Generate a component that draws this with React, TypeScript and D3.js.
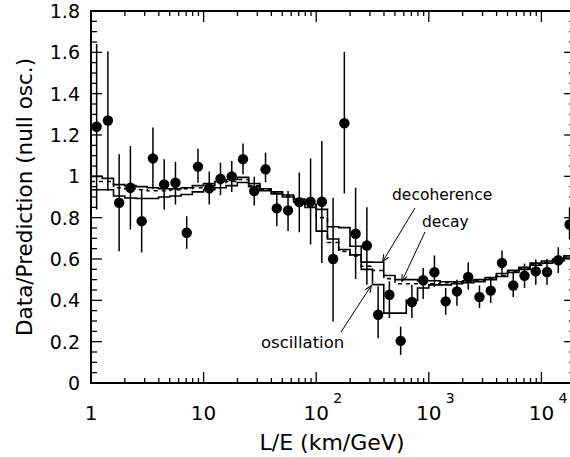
import React from "react";
import * as d3 from "d3";

// log10(L/E) bin centres (bins of 0.1 decade)
const logCenters = [
  0.05, 0.15, 0.25, 0.35, 0.45, 0.55, 0.65, 0.75, 0.85, 0.95,
  1.05, 1.15, 1.25, 1.35, 1.45, 1.55, 1.65, 1.75, 1.85, 1.95,
  2.05, 2.15, 2.25, 2.35, 2.45, 2.55, 2.65, 2.75, 2.85, 2.95,
  3.05, 3.15, 3.25, 3.35, 3.45, 3.55, 3.65, 3.75, 3.85, 3.95,
  4.05, 4.15, 4.25,
];

const ratio = [
  1.24, 1.27, 0.872, 0.945, 0.783, 1.087, 0.961, 0.969, 0.727, 1.047,
  0.942, 0.988, 1.0, 1.083, 0.929, 1.034, 0.845, 0.835, 0.875, 0.877,
  0.877, 0.6, 1.257, 0.722, 0.665, 0.33, 0.427, 0.204, 0.392, 0.497,
  0.536, 0.395, 0.443, 0.513, 0.416, 0.447, 0.581, 0.472, 0.519, 0.54,
  0.537, 0.594, 0.767,
];
const errHigh = [
  1.64, 1.605, 1.107, 1.147, 0.937, 1.236, 1.083, 1.071, 0.807, 1.134,
  1.023, 1.066, 1.074, 1.159, 0.998, 1.115, 0.92, 0.929, 1.018, 1.086,
  1.171, 0.896, 1.603, 0.945, 0.851, 0.468, 0.492, 0.273, 0.476, 0.557,
  0.617, 0.46, 0.5, 0.584, 0.472, 0.5, 0.641, 0.54, 0.578, 0.597,
  0.6, 0.657, 0.848,
];
const errLow = [
  0.84, 0.93, 0.637, 0.743, 0.631, 0.937, 0.84, 0.864, 0.649, 0.969,
  0.864, 0.908, 0.924, 1.01, 0.859, 0.971, 0.759, 0.735, 0.73, 0.67,
  0.581, 0.298, 0.917, 0.503, 0.476, 0.217, 0.314, 0.136, 0.314, 0.406,
  0.465, 0.33, 0.374, 0.451, 0.363, 0.387, 0.516, 0.416, 0.46, 0.476,
  0.476, 0.532, 0.694,
];

const oscillation = [
  0.935, 0.935, 0.905, 0.895, 0.893, 0.893, 0.9, 0.905, 0.912, 0.925,
  0.935, 0.945, 0.955, 0.97, 0.95, 0.93, 0.915, 0.9, 0.875, 0.85,
  0.735, 0.697, 0.646, 0.62, 0.55, 0.476, 0.338, 0.338, 0.4, 0.46,
  0.475, 0.475, 0.48, 0.485, 0.49, 0.5, 0.515, 0.535, 0.55, 0.57,
  0.58, 0.59, 0.605,
];
const decay = [
  0.975, 0.975, 0.945, 0.94, 0.935, 0.93, 0.93, 0.935, 0.94, 0.945,
  0.955, 0.965, 0.975, 0.985, 0.955, 0.935, 0.92, 0.905, 0.88, 0.855,
  0.8, 0.68, 0.637, 0.615, 0.565, 0.544, 0.505, 0.48, 0.48, 0.48,
  0.48, 0.485, 0.485, 0.49, 0.495, 0.505, 0.52, 0.54, 0.555, 0.575,
  0.585, 0.595, 0.61,
];
const decoherence = [
  1.0, 0.99, 0.96, 0.955, 0.95, 0.945, 0.94, 0.94, 0.945, 0.955,
  0.965, 0.975, 0.985, 0.995, 0.965, 0.94, 0.925, 0.91, 0.89, 0.865,
  0.84, 0.756, 0.752, 0.662, 0.585, 0.584, 0.52, 0.5, 0.5, 0.495,
  0.495, 0.49, 0.49, 0.495, 0.5, 0.51, 0.53, 0.545, 0.56, 0.58,
  0.59, 0.6, 0.615,
];

const yTicks = [0, 0.2, 0.4, 0.6, 0.8, 1, 1.2, 1.4, 1.6, 1.8];
const yTickLabels = ["0", "0.2", "0.4", "0.6", "0.8", "1", "1.2", "1.4", "1.6", "1.8"];
const xDecades = [1, 10, 100, 1000, 10000];
const xBase = ["1", "10", "10", "10", "10"];
const xSup = ["", "", "2", "3", "4"];

const FONT = "'DejaVu Sans', 'Open Sans', sans-serif";

export default function App() {
  const W = 570;
  const H = 457;
  const left = 91;
  const decade = 112.6;
  const right = left + 4.3 * decade;
  const top = 11;
  const bottom = 383;

  const x = d3.scaleLog().domain([1, Math.pow(10, 4.3)]).range([left, right]);
  const y = d3.scaleLinear().domain([0, 1.8]).range([bottom, top]);

  const centersLE = logCenters.map((l) => Math.pow(10, l));
  const edges = logCenters.map((l) => Math.pow(10, l - 0.05));
  edges.push(Math.pow(10, logCenters[logCenters.length - 1] + 0.05));

  const stepLine = (vals: number[]) => {
    const pts: [number, number][] = vals.map((v, i) => [edges[i], v]);
    pts.push([edges[vals.length], vals[vals.length - 1]]);
    return d3
      .line<[number, number]>()
      .x((d) => x(d[0]))
      .y((d) => y(d[1]))
      .curve(d3.curveStepAfter)(pts) as string;
  };

  const yMinor = d3.range(0, 1.8001, 0.05);
  const xMinor: number[] = [];
  for (let e = 0; e < 5; e++) {
    for (let m = 2; m <= 9; m++) {
      const v = m * Math.pow(10, e);
      if (v < Math.pow(10, 4.3)) xMinor.push(v);
    }
  }

  const sw = 1.6;

  return (
    <svg
      width={W}
      height={H}
      style={{ position: "absolute", left: 0, top: 0, background: "#fff" }}
      fontFamily={FONT}
    >
      <defs>
        <clipPath id="plot">
          <rect x={left} y={top} width={right - left} height={bottom - top} />
        </clipPath>
        <marker
          id="arrow"
          viewBox="0 0 10 10"
          refX="9"
          refY="5"
          markerWidth="7"
          markerHeight="7"
          orient="auto-start-reverse"
          markerUnits="userSpaceOnUse"
        >
          <path d="M0,1 L10,5 L0,9" fill="none" stroke="#000" strokeWidth="1.5" />
        </marker>
      </defs>
      <rect x={0} y={0} width={W} height={H} fill="#fff" />

      <g clipPath="url(#plot)">
        {/* histograms */}
        <path d={stepLine(oscillation)} fill="none" stroke="#000" strokeWidth={sw} />
        <path d={stepLine(decoherence)} fill="none" stroke="#000" strokeWidth={sw} />
        <path
          d={stepLine(decay)}
          fill="none"
          stroke="#000"
          strokeWidth={sw}
          strokeDasharray="4 4"
        />
        {/* error bars */}
        {centersLE.map((c, i) => (
          <line
            key={"e" + i}
            x1={x(c)}
            x2={x(c)}
            y1={y(errLow[i])}
            y2={y(errHigh[i])}
            stroke="#000"
            strokeWidth={1.5}
          />
        ))}
        {/* points */}
        {centersLE.map((c, i) => (
          <circle key={"p" + i} cx={x(c)} cy={y(ratio[i])} r={5.2} fill="#000" />
        ))}
      </g>

      {/* frame */}
      <rect
        x={left}
        y={top}
        width={right - left}
        height={bottom - top}
        fill="none"
        stroke="#000"
        strokeWidth={2}
      />

      {/* y ticks */}
      {yMinor.map((v, i) => {
        const major = i % 4 === 0;
        const len = major ? 11 : 6;
        return (
          <g key={"yt" + i}>
            <line x1={left} x2={left + len} y1={y(v)} y2={y(v)} stroke="#000" strokeWidth={1.3} />
            <line x1={right} x2={right - len} y1={y(v)} y2={y(v)} stroke="#000" strokeWidth={1.3} />
          </g>
        );
      })}
      {/* x ticks */}
      {xDecades.map((v, i) => (
        <g key={"xd" + i}>
          <line x1={x(v)} x2={x(v)} y1={bottom} y2={bottom - 11} stroke="#000" strokeWidth={1.3} />
          <line x1={x(v)} x2={x(v)} y1={top} y2={top + 11} stroke="#000" strokeWidth={1.3} />
        </g>
      ))}
      {xMinor.map((v, i) => (
        <g key={"xm" + i}>
          <line x1={x(v)} x2={x(v)} y1={bottom} y2={bottom - 5} stroke="#000" strokeWidth={1.3} />
          <line x1={x(v)} x2={x(v)} y1={top} y2={top + 5} stroke="#000" strokeWidth={1.3} />
        </g>
      ))}

      {/* y tick labels */}
      {yTicks.map((v, i) => (
        <text
          key={"yl" + i}
          x={80}
          y={y(v) + 7}
          textAnchor="end"
          fontSize={19}
          fill="#000"
        >
          {yTickLabels[i]}
        </text>
      ))}
      {/* x tick labels */}
      {xDecades.map((v, i) => (
        <g key={"xl" + i}>
          <text x={x(v)} y={420} textAnchor="middle" fontSize={20} fill="#000">
            {xBase[i]}
          </text>
          {xSup[i] && (
            <text x={x(v) + 17} y={403} textAnchor="start" fontSize={14} fill="#000">
              {xSup[i]}
            </text>
          )}
        </g>
      ))}

      {/* axis titles */}
      <text x={332} y={450} textAnchor="middle" fontSize={22} fill="#000">
        L/E  (km/GeV)
      </text>
      <text
        transform={`translate(32,197) rotate(-90)`}
        textAnchor="middle"
        fontSize={21.5}
        fill="#000"
      >
        Data/Prediction (null osc.)
      </text>

      {/* annotations */}
      <text x={392} y={200} fontSize={15.5} fill="#000">decoherence</text>
      <text x={422} y={227} fontSize={15.5} fill="#000">decay</text>
      <text x={261} y={348} fontSize={16.5} fill="#000">oscillation</text>
      <line x1={415} y1={208} x2={383} y2={261} stroke="#000" strokeWidth={1} markerEnd="url(#arrow)" />
      <line x1={425} y1={232} x2={402} y2={281} stroke="#000" strokeWidth={1} markerEnd="url(#arrow)" />
      <line x1={341} y1={332} x2={371} y2={286} stroke="#000" strokeWidth={1} markerEnd="url(#arrow)" />
    </svg>
  );
}
